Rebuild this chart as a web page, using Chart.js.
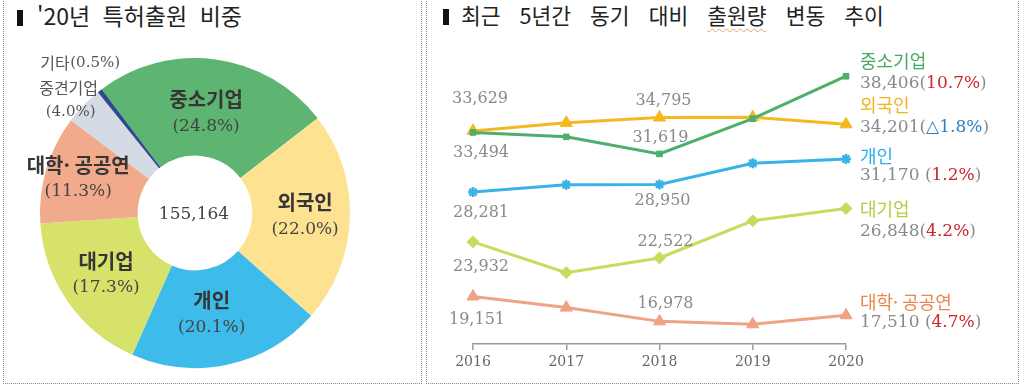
<!DOCTYPE html>
<html lang="ko">
<head>
<meta charset="utf-8">
<script src="https://cdn.jsdelivr.net/npm/chart.js@4.4.1/dist/chart.umd.min.js"></script>
<style>
  html, body { margin: 0; padding: 0; background: #fff; }
  #wrap { position: relative; width: 1024px; height: 388px; overflow: hidden; font-family: "Noto Sans CJK KR", sans-serif; }
  .box { position: absolute; top: -1px; height: 385px; border: 1px dotted #8c8c8c; box-sizing: border-box; }
  #boxL { left: 3px; width: 419px; }
  #boxR { left: 426px; width: 593px; }
  .title { position: absolute; top: 0px; color: #222; white-space: nowrap; line-height: 30px; }
  .title .bar { display: inline-block; width: 6px; height: 16px; background: #111; vertical-align: -1px; }
  #titleL { left: 17px; font-size: 23px; word-spacing: 6px; }
  #titleL .bar { margin-right: 14px; }
  #titleR { left: 443px; font-size: 21.5px; word-spacing: 13px; }
  #titleR .bar { margin-right: 12px; }
  .wavy { text-decoration: underline wavy #e8a070; text-decoration-thickness: 1px; text-underline-offset: 4px; }
  canvas { position: absolute; top: 0; }
  #shareChart { left: 0; }
  #trendChart { left: 428px; }
</style>
</head>
<body>
<div id="wrap">
  <div class="box" id="boxL"></div>
  <div class="box" id="boxR"></div>
  <div class="title" id="titleL"><span class="bar"></span>'20년 특허출원 비중</div>
  <div class="title" id="titleR"><span class="bar"></span>최근 5년간 동기 대비 <span class="wavy">출원량</span> 변동 추이</div>
  <canvas id="shareChart" width="420" height="388"></canvas>
  <canvas id="trendChart" width="594" height="388"></canvas>
</div>
<script>
// '20 share by applicant type
const shareLabels = ['중소기업', '외국인', '개인', '대기업', '대학· 공공연', '중견기업', '기타'];
const shareValues = [24.8, 22.0, 20.1, 17.3, 11.3, 4.0, 0.5];
const shareColors = ['#5db571', '#fde292', '#3dbbea', '#d7e26a', '#f1aa8b', '#d5dbe5', '#2d4a8a'];
const totalApps = 155164;

// 5 year trend
const years = ['2016', '2017', '2018', '2019', '2020'];
const seriesNames = ['중소기업', '외국인', '개인', '대기업', '대학· 공공연'];
const smeApps      = [33494, 33106, 31619, 34694, 38406];
const foreignApps  = [33629, 34330, 34795, 34828, 34201];
const personApps   = [28281, 28920, 28950, 30800, 31170];
const largeApps    = [23932, 21240, 22522, 25766, 26848];
const univApps     = [19151, 18185, 16978, 16724, 17510];
const changeText   = ['10.7%', '△1.8%', '1.2%', '4.2%', '4.7%'];

const lineColors = ['#4daf6b', '#f5b91f', '#39b3e7', '#c7dc5c', '#f0a284'];
const nameColors = ['#48a864', '#f0b420', '#2eaee6', '#b3cd45', '#e8884f'];
const changeColors = ['#c8262b', '#2f7fc0', '#c8262b', '#c8262b', '#c8262b'];

const numFont = '"DejaVu Serif", serif';
const krFont = '"Noto Sans CJK KR", sans-serif';

function fmt(v) { return v.toLocaleString('en-US'); }

// draws pieces of text one after another, starting at x
function drawPieces(ctx, pieces, x, y) {
  pieces.forEach(p => {
    ctx.font = p.font;
    ctx.fillStyle = p.color;
    ctx.fillText(p.text, x, y);
    x += ctx.measureText(p.text).width;
  });
}
function piecesWidth(ctx, pieces) {
  let w = 0;
  pieces.forEach(p => { ctx.font = p.font; w += ctx.measureText(p.text).width; });
  return w;
}

// label shift from arc centre point: [dx, dy, inside?]
const shareShift = [[-3, 5, true], [4, -1, true], [-6, -3, true], [-2, 0, true], [-15, -5, true], [-50, -39, false], [-28, -66, false]];

const donutLabels = {
  id: 'donutLabels',
  afterDatasetsDraw(chart) {
    const ctx = chart.ctx;
    const meta = chart.getDatasetMeta(0);
    ctx.save();
    ctx.textBaseline = 'middle';
    meta.data.forEach((arc, i) => {
      const p = arc.tooltipPosition();
      const [dx, dy, inside] = shareShift[i];
      const cx = p.x + dx, cy = p.y + dy;
      const pct = '(' + shareValues[i].toFixed(1) + '%)';
      if (i === shareValues.length - 1) {
        const pcs = [
          { text: shareLabels[i] + '  ', font: '16px ' + krFont, color: '#555' },
          { text: pct, font: '15px ' + numFont, color: '#555' }
        ];
        drawPieces(ctx, pcs, cx - piecesWidth(ctx, pcs) / 2, cy);
        return;
      }
      ctx.textAlign = 'center';
      if (inside) {
        ctx.font = 'bold 20px ' + krFont;
        ctx.fillStyle = '#363636';
        ctx.fillText(shareLabels[i], cx, cy - 13);
        ctx.font = '17px ' + numFont;
        ctx.fillStyle = '#444';
        ctx.fillText(pct, cx, cy + 14);
      } else {
        ctx.font = '16px ' + krFont;
        ctx.fillStyle = '#555';
        ctx.fillText(shareLabels[i], cx, cy - 12);
        ctx.font = '15px ' + numFont;
        ctx.fillText(pct, cx + 2, cy + 12);
      }
    });
    const c = meta.data[0];
    ctx.textAlign = 'center';
    ctx.font = '17px ' + numFont;
    ctx.fillStyle = '#444';
    ctx.fillText(fmt(totalApps), c.x - 1, c.y + 2);
    ctx.restore();
  }
};

new Chart(document.getElementById('shareChart'), {
  type: 'doughnut',
  data: {
    labels: shareLabels,
    datasets: [{
      data: shareValues,
      backgroundColor: shareColors,
      borderWidth: 0,
      hoverOffset: 0
    }]
  },
  options: {
    responsive: false,
    animation: false,
    events: [],
    devicePixelRatio: 1,
    rotation: -37,
    cutout: '37%',
    layout: { padding: { left: 40, top: 58, right: 70, bottom: 20 } },
    plugins: { legend: { display: false }, tooltip: { enabled: false } }
  },
  plugins: [donutLabels]
});

// value notes on points: [dataset, index, dx, dy]
const pointNotes = [
  [1, 0, 7, -32], [0, 0, 8, 20], [2, 0, 8, 21], [3, 0, 8, 25], [4, 0, 4, 23],
  [1, 2, 4, -17], [0, 2, 1, -16], [2, 2, 3, 16], [3, 2, 6, -16], [4, 2, 6, -18]
];
// right side legend lines, offset from last point
const nameDy = [-15, -19, -3, 1, -13];
const valueDy = [7, 3, 17, 23, 7];
const valueGap = ['', '', ' ', '', ' '];

const trendLabels = {
  id: 'trendLabels',
  afterDatasetsDraw(chart) {
    const ctx = chart.ctx;
    ctx.save();
    ctx.textBaseline = 'middle';
    ctx.textAlign = 'center';
    ctx.font = '16px ' + numFont;
    ctx.fillStyle = '#8a8a8a';
    pointNotes.forEach(([d, i, dx, dy]) => {
      const pt = chart.getDatasetMeta(d).data[i];
      ctx.fillText(fmt(chart.data.datasets[d].data[i]), pt.x + dx, pt.y + dy);
    });
    ctx.textAlign = 'left';
    const x = chart.chartArea.right + 14;
    chart.data.datasets.forEach((ds, d) => {
      const last = chart.getDatasetMeta(d).data[ds.data.length - 1];
      ctx.font = '18px ' + krFont;
      ctx.fillStyle = nameColors[d];
      ctx.fillText(seriesNames[d], x, last.y + nameDy[d]);
      const vf = '17px ' + numFont;
      drawPieces(ctx, [
        { text: fmt(ds.data[ds.data.length - 1]) + valueGap[d] + '(', font: vf, color: '#8a8a8a' },
        { text: changeText[d], font: vf, color: changeColors[d] },
        { text: ')', font: vf, color: '#8a8a8a' }
      ], x, last.y + valueDy[d]);
    });
    ctx.restore();
  }
};

const seriesData = [smeApps, foreignApps, personApps, largeApps, univApps];
const pointStyles = ['rect', 'triangle', 'star', 'rectRot', 'triangle'];
const pointSizes = [4, 7, 5, 6, 7];

new Chart(document.getElementById('trendChart'), {
  type: 'line',
  data: {
    labels: years,
    datasets: seriesData.map((vals, d) => ({
      label: seriesNames[d],
      data: vals,
      borderColor: lineColors[d],
      backgroundColor: lineColors[d],
      borderWidth: 3,
      tension: 0,
      pointStyle: pointStyles[d],
      pointRadius: pointSizes[d],
      pointBorderColor: lineColors[d],
      pointBackgroundColor: lineColors[d],
      pointBorderWidth: pointStyles[d] === 'star' ? 2.5 : 1
    }))
  },
  options: {
    responsive: false,
    animation: false,
    events: [],
    devicePixelRatio: 1,
    layout: { padding: { left: 45, right: 176, top: 58, bottom: 14 } },
    plugins: { legend: { display: false }, tooltip: { enabled: false } },
    scales: {
      x: {
        offset: false,
        grid: { display: true, drawOnChartArea: false, drawTicks: true, tickLength: 6, color: '#9a9a9a', lineWidth: 1.5 },
        border: { display: true, color: '#9a9a9a', width: 1.5 },
        ticks: { color: '#666', font: { family: 'DejaVu Serif', size: 14 }, padding: 4, maxRotation: 0 },
        afterFit(scale) { scale.height = 30; }
      },
      y: { display: false, min: 15000, max: 40000 }
    }
  },
  plugins: [trendLabels]
});
</script>
</body>
</html>
